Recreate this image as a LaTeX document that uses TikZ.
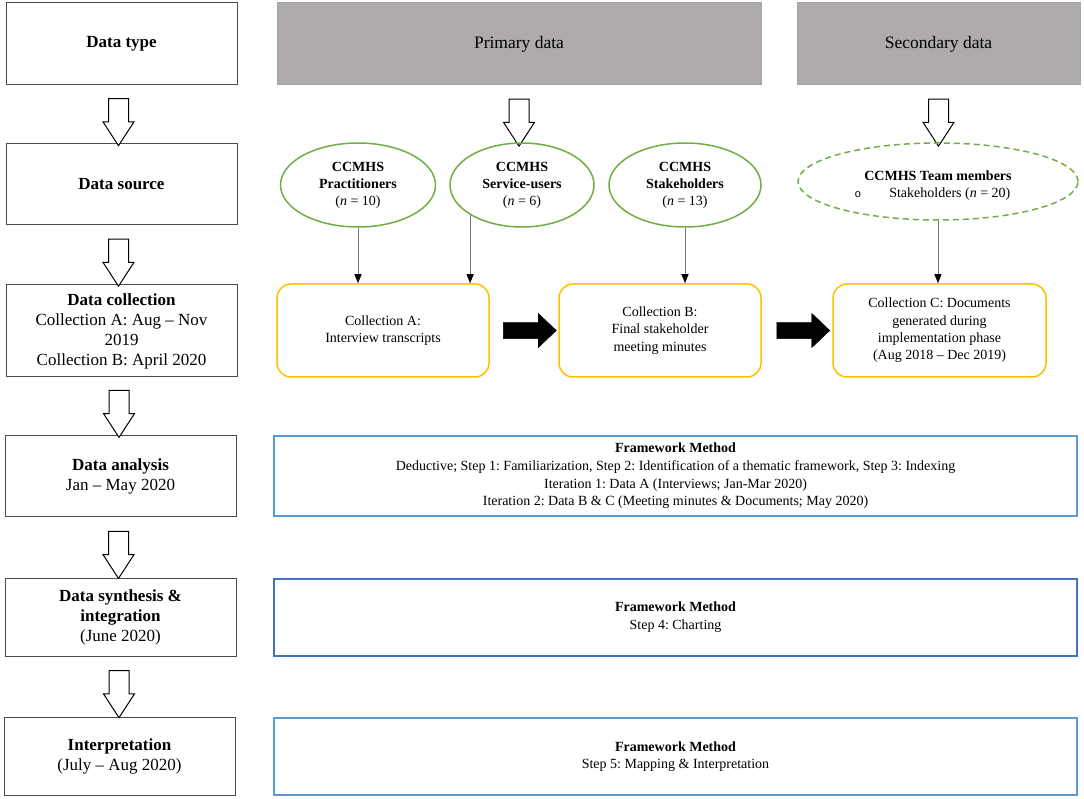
\documentclass[tikz,border=0pt]{standalone}
\usepackage{fontspec}
\setmainfont{Liberation Serif}
\newfontfamily\monof{Liberation Mono}
\usetikzlibrary{shapes.geometric,shapes.arrows,arrows.meta,calc}
\definecolor{grn}{HTML}{70AD47}
\definecolor{yel}{HTML}{FFC000}
\definecolor{blueA}{HTML}{5B9BD5}
\definecolor{blueB}{HTML}{4472C4}
\definecolor{grayfill}{HTML}{AFABAB}
\definecolor{grayline}{HTML}{A6A6A6}
\frenchspacing
\begin{document}
\begin{tikzpicture}[x=1pt,y=-1pt,
  lbox/.style={draw=black!70,line width=1pt,minimum width=231pt,inner sep=2pt,align=center,
    font=\fontsize{17}{20}\selectfont},
  gbox/.style={draw=grayline,fill=grayfill,line width=1pt,minimum height=82pt,inner sep=0pt,
    font=\fontsize{17.5}{20}\selectfont},
  hollow/.style={single arrow,draw=black,line width=1pt,fill=white,minimum height=47pt,
    inner xsep=0pt,inner ysep=9.5pt,single arrow head extend=5.5pt,single arrow tip angle=66,rotate=-90},
  blk/.style={single arrow,draw=black,fill=black,minimum height=53pt,
    inner xsep=0pt,inner ysep=8pt,single arrow head extend=9pt,single arrow tip angle=87},
  ell/.style={ellipse,draw=grn,line width=1.5pt,inner sep=0pt,align=center,
    font=\fontsize{14}{17}\selectfont},
  ybox/.style={draw=yel,line width=1.5pt,rounded corners=14pt,minimum height=93pt,inner sep=0pt,
    align=center,font=\fontsize{14}{17.3}\selectfont},
  bbox/.style={line width=1.5pt,minimum width=803pt,inner sep=0pt,align=center,
    font=\fontsize{14}{17.7}\selectfont},
  conn/.style={draw=black!55,line width=1pt,-{Triangle[length=9pt,width=7pt,color=black]}}
]
\useasboundingbox (0,0) rectangle (1084,799);

% left column
\node[lbox,minimum height=82pt] (L1) at (121.5,44) {\textbf{Data type}};
\node[lbox,minimum height=81pt] (L2) at (121.5,184.5) {\textbf{Data source}};
\node[lbox,minimum height=92pt] (L3) at (121.5,331) {\textbf{Data collection}\\Collection A: Aug -- Nov\\2019\\Collection B: April 2020};
\node[lbox,minimum height=81pt] (L4) at (120.5,476) {\textbf{Data analysis}\\Jan -- May 2020};
\node[lbox,minimum height=78pt] (L5) at (120.5,617) {\textbf{Data synthesis \&}\\\textbf{integration}\\(June 2020)};
\node[lbox,minimum height=78pt] (L6) at (119.5,756) {\textbf{Interpretation}\\(July -- Aug 2020)};

\node[hollow] (h1) at ($(L1.south)!0.5!(L2.north)+(-3,0)$) {};
\node[hollow] (h2) at ($(L2.south)!0.5!(L3.north)+(-3,0)$) {};
\node[hollow] (h3) at ($(L3.south)!0.5!(L4.north)+(-2,0)$) {};
\node[hollow] (h4) at ($(L4.south)!0.5!(L5.north)+(-2,0)$) {};
\node[hollow] (h5) at ($(L5.south)!0.5!(L6.north)+(-1,0)$) {};

% data type
\node[gbox,minimum width=484pt] (G1) at (519,44) {Primary data};
\node[gbox,minimum width=283pt] (G2) at (938.5,44) {Secondary data};
\node[hollow] (h6) at ($(G1.south)+(0,29.5)$) {};
\node[hollow] (h7) at ($(G2.south)+(0,29.5)$) {};

% sources
\node[ell,minimum width=155pt,minimum height=84pt] (P) at (358,185)
  {\textbf{CCMHS}\\\textbf{Practitioners}\\(\textit{n} = 10)};
\node[ell,minimum width=144pt,minimum height=84pt] (S) at (522,185)
  {\textbf{CCMHS}\\\textbf{Service-users}\\(\textit{n} = 6)};
\node[ell,minimum width=152pt,minimum height=84pt] (K) at (685,185)
  {\textbf{CCMHS}\\\textbf{Stakeholders}\\(\textit{n} = 13)};
\node[ell,dash pattern=on 6pt off 4pt,minimum width=280pt,minimum height=77pt,
  label={[align=center,font=\fontsize{14}{17}\selectfont,yshift=-4pt]center:{\textbf{CCMHS Team members}\\{\monof\fontsize{11}{11}\selectfont o}\hspace{28pt}Stakeholders (\textit{n} = 20)\rule{11pt}{0pt}}}] (T) at (938,181.5) {};

% collections
\node[ybox,minimum width=212pt] (A) at (383,330.5) {Collection A:\\Interview transcripts};
\node[ybox,minimum width=202pt] (B) at (660,330.5) {Collection B:\\Final stakeholder\\meeting minutes};
\node[ybox,minimum width=213pt] (C) at (939.5,330.5) {Collection C: Documents\\generated during\\implementation phase\\(Aug 2018 -- Dec 2019)};

\node[blk] (bA) at ($(A.east)!0.5!(B.west)+(1.5,0)$) {};
\node[blk] (bB) at ($(B.east)!0.5!(C.west)+(2,0)$) {};

\draw[conn] (P.south) -- (P.south |- A.north);
\draw[conn] (S.210) -- (S.210 |- A.north);
\draw[conn] (K.south) -- (K.south |- B.north);
\draw[conn] (T.south) -- (T.south |- C.north);

% framework boxes
\node[bbox,draw=blueA,minimum height=80pt] (F1) at (675.5,476)
  {\textbf{Framework Method}\\Deductive; Step 1: Familiarization, Step 2: Identification of a thematic framework, Step 3: Indexing\\Iteration 1: Data A (Interviews; Jan-Mar 2020)\\Iteration 2: Data B \& C (Meeting minutes \& Documents; May 2020)};
\node[bbox,draw=blueB,minimum height=77pt] (F2) at (675.5,617.5)
  {\textbf{Framework Method}\\Step 4: Charting};
\node[bbox,draw=blueA,minimum height=77pt] (F3) at (675.5,756.5)
  {\textbf{Framework Method}\\Step 5: Mapping \& Interpretation};
\end{tikzpicture}
\end{document}
